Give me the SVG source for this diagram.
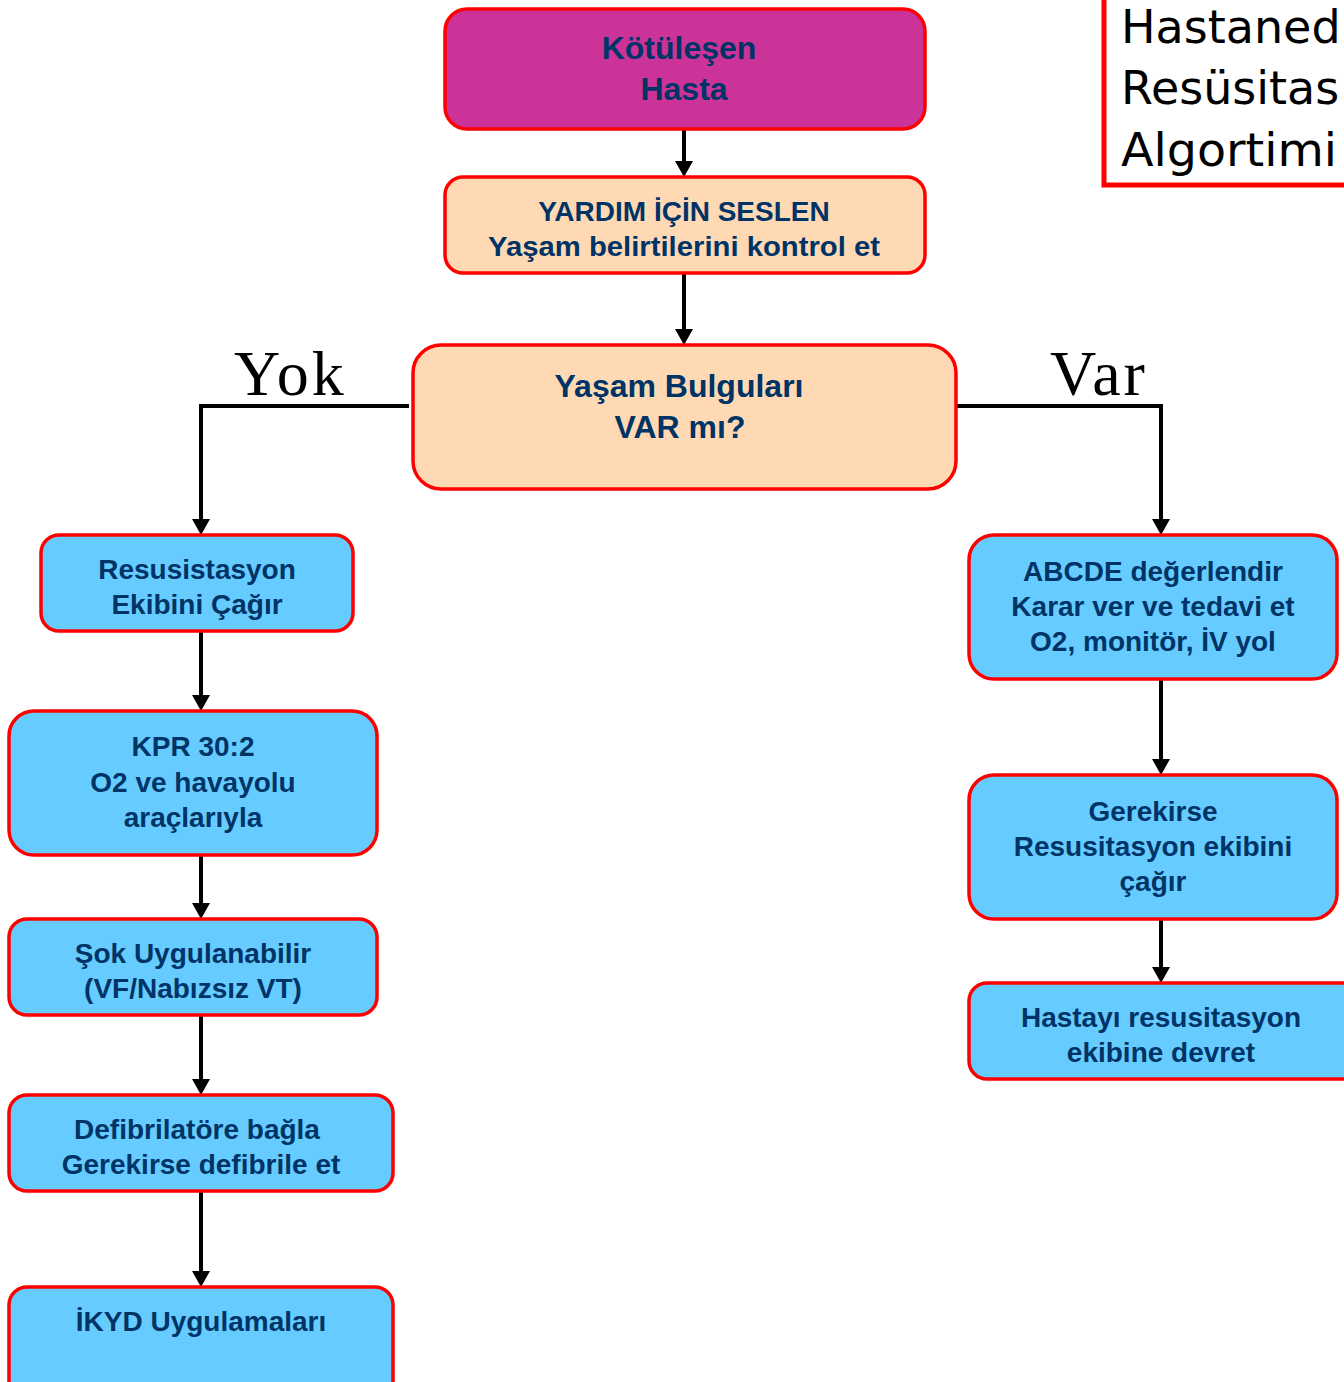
<svg xmlns="http://www.w3.org/2000/svg" width="1344" height="1382" viewBox="0 0 1344 1382">
<style>
.box{stroke:#FF0000;stroke-width:3.5}
.mag{fill:#CC3399}
.peach{fill:#FFD9B3}
.blue{fill:#66CCFF}
.t{font-family:"Liberation Sans",Arial,sans-serif;font-weight:bold;fill:#003366;text-anchor:middle}
.t32{font-size:32px}
.t28{font-size:28px}
.lbl{font-family:"Liberation Serif","Times New Roman",serif;font-size:64px;letter-spacing:3px;fill:#000}
.title{font-family:"DejaVu Sans",Verdana,sans-serif;font-size:46px;fill:#000}
.conn{fill:none;stroke:#000;stroke-width:4}
</style>
<defs>
<marker id="ah" viewBox="0 0 16 18" refX="10" refY="9" markerWidth="16" markerHeight="18" markerUnits="userSpaceOnUse" orient="auto">
<path d="M0,0 L16,9 L0,18 Z" fill="#000"/>
</marker>
</defs>
<rect width="1344" height="1382" fill="#fff"/>

<g id="title">
<rect x="1104" y="-10" width="300" height="195" fill="#fff" stroke="#FF0000" stroke-width="5"/>
<text class="title" x="1121" y="43" font-size="45">Hastaned</text>
<text class="title" x="1121" y="104">Resüsitas</text>
<text class="title" x="1121" y="166" textLength="216" lengthAdjust="spacingAndGlyphs">Algortimi</text>
</g>

<g id="connectors">
<line class="conn" x1="684" y1="129" x2="684" y2="171" marker-end="url(#ah)"/>
<line class="conn" x1="684" y1="273" x2="684" y2="339" marker-end="url(#ah)"/>
<path class="conn" d="M409,406 H201 V529" marker-end="url(#ah)"/>
<path class="conn" d="M954,406 H1161 V529" marker-end="url(#ah)"/>
<line class="conn" x1="201" y1="631" x2="201" y2="705" marker-end="url(#ah)"/>
<line class="conn" x1="201" y1="855" x2="201" y2="913" marker-end="url(#ah)"/>
<line class="conn" x1="201" y1="1015" x2="201" y2="1089" marker-end="url(#ah)"/>
<line class="conn" x1="201" y1="1191" x2="201" y2="1281" marker-end="url(#ah)"/>
<line class="conn" x1="1161" y1="679" x2="1161" y2="769" marker-end="url(#ah)"/>
<line class="conn" x1="1161" y1="919" x2="1161" y2="977" marker-end="url(#ah)"/>
</g>

<g id="lbl-yok"><text class="lbl" x="234" y="395">Yok</text></g>
<g id="lbl-var"><text class="lbl" x="1050" y="395">Var</text></g>

<g id="n-kotulesen">
<rect class="box mag" x="445" y="9" width="480" height="120" rx="22"/>
<text class="t t32" x="679" y="59">Kötüleşen</text>
<text class="t t32" x="684" y="100">Hasta</text>
</g>

<g id="n-yardim">
<rect class="box peach" x="445" y="177" width="480" height="96" rx="18"/>
<text class="t t28" x="684" y="221">YARDIM İÇİN SESLEN</text>
<text class="t t28" x="684" y="256" textLength="392" lengthAdjust="spacingAndGlyphs">Yaşam belirtilerini kontrol et</text>
</g>

<g id="n-bulgular">
<rect class="box peach" x="413" y="345" width="543" height="144" rx="28"/>
<text class="t t32" x="679" y="397">Yaşam Bulguları</text>
<text class="t t32" x="680" y="438">VAR mı?</text>
</g>

<g id="n-resus">
<rect class="box blue" x="41" y="535" width="312" height="96" rx="18"/>
<text class="t t28" x="197" y="579">Resusistasyon</text>
<text class="t t28" x="197" y="614">Ekibini Çağır</text>
</g>

<g id="n-kpr">
<rect class="box blue" x="9" y="711" width="368" height="144" rx="25"/>
<text class="t t28" x="193" y="756">KPR 30:2</text>
<text class="t t28" x="193" y="792">O2 ve havayolu</text>
<text class="t t28" x="193" y="827">araçlarıyla</text>
</g>

<g id="n-sok">
<rect class="box blue" x="9" y="919" width="368" height="96" rx="18"/>
<text class="t t28" x="193" y="963">Şok Uygulanabilir</text>
<text class="t t28" x="193" y="998">(VF/Nabızsız VT)</text>
</g>

<g id="n-defib">
<rect class="box blue" x="9" y="1095" width="384" height="96" rx="18"/>
<text class="t t28" x="197" y="1139">Defibrilatöre bağla</text>
<text class="t t28" x="201" y="1174">Gerekirse defibrile et</text>
</g>

<g id="n-ikyd">
<rect class="box blue" x="9" y="1287" width="384" height="112" rx="18"/>
<text class="t t28" x="201" y="1331">İKYD Uygulamaları</text>
</g>

<g id="n-abcde">
<rect class="box blue" x="969" y="535" width="368" height="144" rx="25"/>
<text class="t t28" x="1153" y="581">ABCDE değerlendir</text>
<text class="t t28" x="1153" y="616">Karar ver ve tedavi et</text>
<text class="t t28" x="1153" y="651">O2, monitör, İV yol</text>
</g>

<g id="n-gerekirse">
<rect class="box blue" x="969" y="775" width="368" height="144" rx="25"/>
<text class="t t28" x="1153" y="821">Gerekirse</text>
<text class="t t28" x="1153" y="856">Resusitasyon ekibini</text>
<text class="t t28" x="1153" y="891">çağır</text>
</g>

<g id="n-devret">
<rect class="box blue" x="969" y="983" width="400" height="96" rx="18"/>
<text class="t t28" x="1161" y="1027">Hastayı resusitasyon</text>
<text class="t t28" x="1161" y="1062">ekibine devret</text>
</g>
</svg>
